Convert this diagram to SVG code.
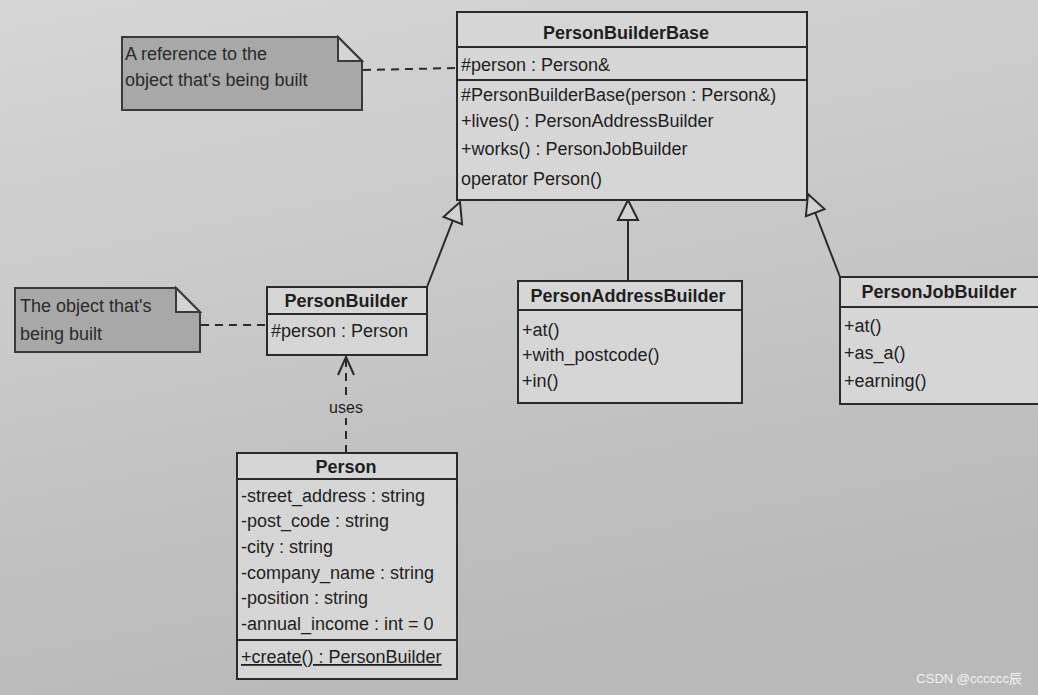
<svg xmlns="http://www.w3.org/2000/svg" width="1038" height="695" viewBox="0 0 1038 695">
<defs>
<linearGradient id="bg" x1="0" y1="0" x2="0.3" y2="1">
<stop offset="0" stop-color="#d6d6d6"/>
<stop offset="1" stop-color="#b9b9b9"/>
</linearGradient>
<marker id="tri" markerWidth="24" markerHeight="24" refX="22" refY="12" orient="auto" markerUnits="userSpaceOnUse">
<path d="M2,2 L22,12 L2,22 Z" fill="#d2d2d2" stroke="#2a2a2a" stroke-width="2"/>
</marker>
<marker id="open" markerWidth="24" markerHeight="24" refX="21" refY="12" orient="auto" markerUnits="userSpaceOnUse">
<path d="M3,4 L21,12 L3,20" fill="none" stroke="#2a2a2a" stroke-width="2"/>
</marker>
</defs>
<style>
.box{fill:#d6d6d6;stroke:#2a2a2a;stroke-width:2}
.sep{stroke:#2a2a2a;stroke-width:2}
.note{fill:#a8a8a8;stroke:#3a3a3a;stroke-width:2}
.ear{fill:#d4d4d4;stroke:#3a3a3a;stroke-width:2}
text{font-family:"Liberation Sans",Arial,sans-serif;font-size:18px;fill:#1e1e1e}
.t{font-weight:bold;text-anchor:middle}
.nt{fill:#2a2a2a}
.dash{stroke:#2a2a2a;stroke-width:2;stroke-dasharray:8,6;fill:none}
.ln{stroke:#2a2a2a;stroke-width:2;fill:none}
</style>
<rect width="1038" height="695" fill="url(#bg)"/>

<g id="connectors">
<line class="dash" x1="363" y1="70" x2="457" y2="68"/>
<line class="dash" x1="201" y1="325" x2="267" y2="325"/>
<line class="ln" x1="427" y1="287" x2="460" y2="202" marker-end="url(#tri)"/>
<line class="ln" x1="628" y1="281" x2="628" y2="200" marker-end="url(#tri)"/>
<line class="ln" x1="840" y1="277" x2="808" y2="194" marker-end="url(#tri)"/>
<line class="dash" x1="346" y1="453" x2="346" y2="418"/>
<line class="dash" x1="346" y1="395" x2="346" y2="357" marker-end="url(#open)"/>
<text x="346" y="413" text-anchor="middle" style="font-size:16px">uses</text>
</g>

<g id="note1">
<path class="note" d="M122,37 L338,37 L362,61 L362,110 L122,110 Z"/>
<path class="ear" d="M338,37 L338,61 L362,61 Z"/>
<text class="nt" x="125" y="60">A reference to the</text>
<text class="nt" x="125" y="86">object that's being built</text>
</g>

<g id="note2">
<path class="note" d="M15,288 L176,288 L200,312 L200,352 L15,352 Z"/>
<path class="ear" d="M176,288 L176,312 L200,312 Z"/>
<text class="nt" x="20" y="312">The object that's</text>
<text class="nt" x="20" y="340">being built</text>
</g>

<g id="PersonBuilderBase">
<rect class="box" x="457" y="12" width="350" height="188"/>
<line class="sep" x1="457" y1="47" x2="807" y2="47"/>
<line class="sep" x1="457" y1="80" x2="807" y2="80"/>
<text class="t" x="626" y="39">PersonBuilderBase</text>
<text x="461" y="71">#person : Person&amp;</text>
<text x="461" y="101">#PersonBuilderBase(person : Person&amp;)</text>
<text x="461" y="127">+lives() : PersonAddressBuilder</text>
<text x="461" y="155">+works() : PersonJobBuilder</text>
<text x="461" y="185">operator Person()</text>
</g>

<g id="PersonBuilder">
<rect class="box" x="267" y="287" width="160" height="68"/>
<line class="sep" x1="267" y1="314" x2="427" y2="314"/>
<text class="t" x="346" y="307">PersonBuilder</text>
<text x="271" y="337">#person : Person</text>
</g>

<g id="PersonAddressBuilder">
<rect class="box" x="518" y="281" width="224" height="122"/>
<line class="sep" x1="518" y1="310" x2="742" y2="310"/>
<text class="t" x="628" y="302">PersonAddressBuilder</text>
<text x="522" y="336">+at()</text>
<text x="522" y="361">+with_postcode()</text>
<text x="522" y="387">+in()</text>
</g>

<g id="PersonJobBuilder">
<rect class="box" x="840" y="277" width="206" height="127"/>
<line class="sep" x1="840" y1="307" x2="1046" y2="307"/>
<text class="t" x="939" y="298">PersonJobBuilder</text>
<text x="844" y="332">+at()</text>
<text x="844" y="359">+as_a()</text>
<text x="844" y="387">+earning()</text>
</g>

<g id="Person">
<rect class="box" x="237" y="453" width="220" height="226"/>
<line class="sep" x1="237" y1="479" x2="457" y2="479"/>
<line class="sep" x1="237" y1="640" x2="457" y2="640"/>
<text class="t" x="346" y="473">Person</text>
<text x="241" y="502">-street_address : string</text>
<text x="241" y="527">-post_code : string</text>
<text x="241" y="553">-city : string</text>
<text x="241" y="579">-company_name : string</text>
<text x="241" y="604">-position : string</text>
<text x="241" y="630">-annual_income : int = 0</text>
<text x="241" y="663" text-decoration="underline">+create() : PersonBuilder</text>
</g>

<text x="1022" y="683" text-anchor="end" style="font-size:13px;fill:#f2f2f2;font-family:'Liberation Sans','Noto Sans CJK SC',sans-serif">CSDN @cccccc辰</text>
</svg>
